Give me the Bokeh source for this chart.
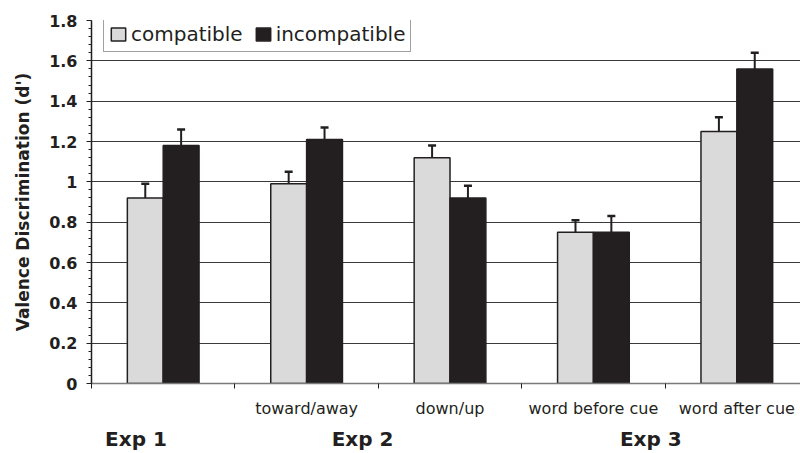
from bokeh.plotting import figure
from bokeh.models import (FixedTicker, LinearAxis, Whisker, ColumnDataSource, Legend,
                          LegendItem, TeeHead, Range1d, NumeralTickFormatter)
from bokeh.embed import file_html
from bokeh.resources import INLINE

# ---- data ----
conditions = ["", "toward/away", "down/up", "word before cue", "word after cue"]
compatible = [0.92, 0.99, 1.12, 0.75, 1.25]
compatible_err = [0.07, 0.06, 0.06, 0.06, 0.07]
incompatible = [1.18, 1.21, 0.92, 0.75, 1.56]
incompatible_err = [0.08, 0.06, 0.06, 0.08, 0.08]
experiments = ["Exp 1", "Exp 2", "Exp 3"]
y_ticks = [0, 0.2, 0.4, 0.6, 0.8, 1, 1.2, 1.4, 1.6, 1.8]

# ---- layout helpers ----
exp_label_pos = [0.31, 1.89, 3.9]
n = len(conditions)
centers = [i + 0.5 for i in range(n)]
bw = 0.25
x_comp = [c - bw / 2 for c in centers]
x_inc = [c + bw / 2 for c in centers]

INK = "#231f20"
FONT = "DejaVu Sans"

p = figure(width=800, height=453, x_range=Range1d(0, 4.944), y_range=Range1d(0, 1.8),
           output_backend="svg", toolbar_location=None,
           min_border_left=91, min_border_top=20, min_border_right=0, min_border_bottom=69)
p.outline_line_color = None
p.background_fill_color = "white"
p.xgrid.visible = False
p.ygrid.ticker = FixedTicker(ticks=y_ticks[1:-1])
p.ygrid.grid_line_color = "#3a3a3a"
p.ygrid.grid_line_width = 1

src_c = ColumnDataSource(dict(x=x_comp, top=compatible,
                              upper=[v + e for v, e in zip(compatible, compatible_err)]))
src_i = ColumnDataSource(dict(x=x_inc, top=incompatible,
                              upper=[v + e for v, e in zip(incompatible, incompatible_err)]))

r_c = p.vbar(x="x", top="top", bottom=0, width=bw, source=src_c,
             fill_color="#dadada", line_color=INK, line_width=1.5)
r_i = p.vbar(x="x", top="top", bottom=0, width=bw, source=src_i,
             fill_color=INK, line_color=INK, line_width=1.5)

for src in (src_c, src_i):
    w = Whisker(base="x", lower="top", upper="upper", source=src,
                line_color=INK, line_width=2,
                upper_head=TeeHead(size=8, line_color=INK, line_width=2.5),
                lower_head=None)
    p.add_layout(w)

# y axis
ya = p.yaxis[0]
ya.ticker = FixedTicker(ticks=y_ticks, minor_ticks=[round(k * 0.04, 2) for k in range(46)])
ya.formatter = NumeralTickFormatter(format="0.[0]")
ya.axis_line_color = INK
ya.axis_line_width = 1.5
ya.major_tick_line_color = INK
ya.minor_tick_line_color = INK
ya.major_tick_out = 5
ya.major_tick_in = 0
ya.minor_tick_out = 3
ya.minor_tick_in = 0
ya.major_label_text_font = FONT
ya.major_label_text_font_style = "bold"
ya.major_label_text_font_size = "16px"
ya.major_label_text_color = INK
ya.major_label_standoff = 9
ya.axis_label = "Valence Discrimination (d')"
ya.axis_label_text_font = FONT
ya.axis_label_text_font_style = "bold"
ya.axis_label_text_font_size = "17px"
ya.axis_label_text_color = INK
ya.axis_label_standoff = 13

# x axis: condition labels at centres, boundary ticks as minor ticks
xa = p.xaxis[0]
xa.ticker = FixedTicker(ticks=centers, minor_ticks=list(range(n)))
xa.major_label_overrides = {c: lab for c, lab in zip(centers, conditions)}
xa.axis_line_color = "#7a7a7a"
xa.axis_line_width = 1.5
xa.major_tick_line_color = None
xa.minor_tick_line_color = INK
xa.minor_tick_out = 5
xa.minor_tick_in = 0
xa.major_label_text_font = FONT
xa.major_label_text_font_size = "16px"
xa.major_label_text_color = INK
xa.major_label_standoff = 9

# second axis: experiment labels
xa2 = LinearAxis(ticker=FixedTicker(ticks=exp_label_pos))
xa2.major_label_overrides = {pos: lab for pos, lab in zip(exp_label_pos, experiments)}
xa2.axis_line_color = None
xa2.major_tick_line_color = None
xa2.minor_tick_line_color = None
xa2.major_tick_out = 0
xa2.major_tick_in = 0
xa2.major_label_text_font = FONT
xa2.major_label_text_font_style = "bold"
xa2.major_label_text_font_size = "20px"
xa2.major_label_text_color = INK
xa2.major_label_standoff = 6
p.add_layout(xa2, "below")

legend = Legend(items=[LegendItem(label="compatible", renderers=[r_c]),
                       LegendItem(label="incompatible", renderers=[r_i])],
                orientation="horizontal", location=(12, 331))
legend.glyph_width = 18
legend.glyph_height = 16
legend.label_standoff = 4
legend.spacing = 11
legend.padding = 5
legend.margin = 0
legend.label_text_font = FONT
legend.label_text_font_size = "20px"
legend.label_text_color = INK
legend.border_line_color = "#444444"
legend.border_line_width = 1.5
legend.background_fill_color = "white"
legend.background_fill_alpha = 1
p.add_layout(legend, "center")

open("out.html", "w").write(file_html(p, INLINE))
